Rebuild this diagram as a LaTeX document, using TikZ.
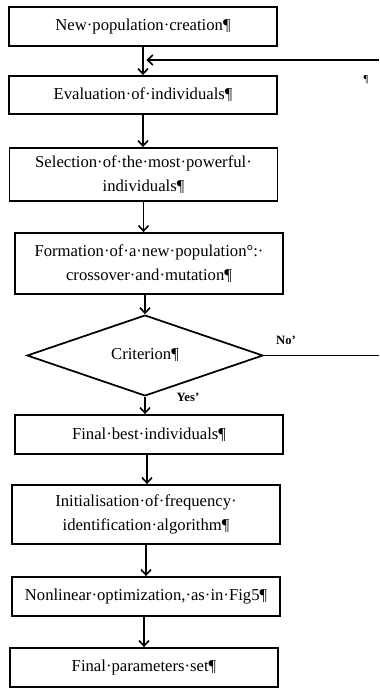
\documentclass[tikz,border=0pt]{standalone}
\usepackage{fontspec}
\setmainfont{Liberation Serif}
\usetikzlibrary{arrows.meta,shapes.geometric}

\begin{document}
\begin{tikzpicture}[x=0.75pt,y=-0.75pt,
        every node/.style={inner sep=2pt,font=\fontsize{12.5}{18}\selectfont},
        stepbox/.style={draw,line width=1.4pt,rectangle,minimum width=201pt,align=center},
        testbox/.style={draw,line width=1.3pt,diamond,minimum width=177pt,minimum height=41.25pt,inner sep=0pt},
        answer/.style={font=\fontsize{9.5}{11}\selectfont\bfseries},
        >={Straight Barb[length=4pt,width=7.5pt]},line width=1.2pt]
       \useasboundingbox (0,0) rectangle (379,689);
       \node[stepbox,minimum height=29.25pt](b1)at(143,26.5){New·population·creation¶};
       \node[stepbox,minimum height=28.5pt](b2)at(143,95){Evaluation·of·individuals¶};
       \node[stepbox,minimum height=39.75pt](b3)at(143.5,174.5){Selection·of·the·most·powerful·\\individuals¶};
       \node[stepbox,minimum height=45.75pt](b4)at(149,263.5){Formation·of·a·new·population°:·\\crossover·and·mutation¶};
       \node[testbox](crit)at(145,355.5){Criterion¶};
       \node[stepbox,minimum height=29.25pt](b5)at(149,434.5){Final·best·individuals¶};
       \node[stepbox,minimum height=44.25pt](b6)at(146,514.5){Initialisation·of·frequency·\\identification·algorithm¶};
       \node[stepbox,minimum height=29.25pt](b7)at(146,596.5){Nonlinear·optimization,·as·in·Fig5¶};
       \node[stepbox,minimum height=29.25pt](b8)at(144,667.5){Final·parameters·set¶};
       % loop back
       \coordinate(loopin)at(379,60);
       \coordinate(loopout)at(379,355.5);
       \node[answer](no)at(286,340){No'};
       \node[answer](yes)at(188,397){Yes'};
       \node[font=\fontsize{8}{9}\selectfont](mark)at(366,80){¶};
       \draw[->](b1.south)--(b1.south|-b2.north);
       \draw[->](b2.south)--(b2.south|-b3.north);
       \draw[->](b3.south)--(b3.south|-b4.north);
       \draw[->](crit.north|-b4.south)--(crit.north);
       \draw[->](crit.south)--(crit.south|-b5.north);
       \draw[->]([xshift=-1.5pt]b5.south)--([xshift=-1.5pt]b5.south|-b6.north);
       \draw[->](b6.south)--(b6.south|-b7.north);
       \draw[->](b8.north|-b7.south)--(b8.north);
       \draw(crit.east)--(loopout);
       \draw[->](loopin)--([xshift=2.5pt]loopin-|b1.south);
    \end{tikzpicture}
\end{document}
